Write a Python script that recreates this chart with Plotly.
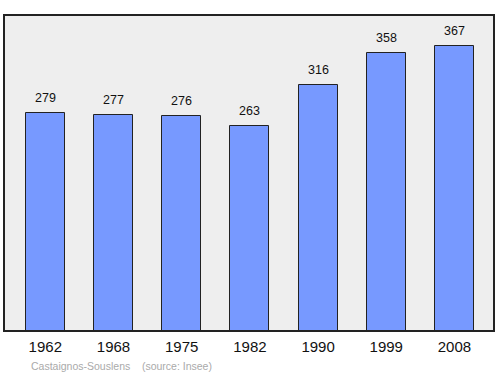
import plotly.graph_objects as go

years = ["1962", "1968", "1975", "1982", "1990", "1999", "2008"]
population = [279, 277, 276, 263, 316, 358, 367]

FONT = "Liberation Sans, Arial, sans-serif"
BASE = -8  # bars extend past the bottom frame, as in the reference

fig = go.Figure()
fig.add_trace(go.Bar(
    x=list(range(len(years))), y=[v - BASE for v in population], base=BASE,
    width=0.574,
    marker=dict(color="#7799ff", line=dict(color="#222222", width=1)),
    hoverinfo="skip", cliponaxis=True,
))

for i, v in enumerate(population):
    fig.add_annotation(x=i, y=v, text=str(v), showarrow=False,
                       yanchor="bottom", yshift=6,
                       font=dict(family=FONT, size=12.5, color="#111111"))

fig.add_annotation(xref="paper", yref="paper", x=(29 - 5) / 490, y=-(366 - 330) / 314,
                   text="Castaignos-Souslens &nbsp;&nbsp; (source: Insee)", showarrow=False,
                   xanchor="left", yanchor="middle",
                   font=dict(family=FONT, size=10.5, color="#aaaaaa"))

fig.update_layout(
    width=500, height=374,
    margin=dict(l=5, r=5, t=16, b=44),
    paper_bgcolor="white", plot_bgcolor="#eeeeee",
    showlegend=False,
    bargap=0,
    font=dict(family=FONT),
)
fig.update_xaxes(
    range=[-0.591, 6.565], tickmode="array", tickvals=list(range(len(years))), ticktext=years,
    showgrid=False, zeroline=False, showline=True, linecolor="#222222", linewidth=1.5, mirror=True,
    ticks="", tickfont=dict(size=15, color="#111111"), ticklabelstandoff=2,
)
fig.update_yaxes(
    range=[-3.6, 406], showgrid=False, zeroline=False, showticklabels=False,
    showline=True, linecolor="#222222", linewidth=1.5, mirror=True, ticks="",
)

fig.write_html("out.html")
